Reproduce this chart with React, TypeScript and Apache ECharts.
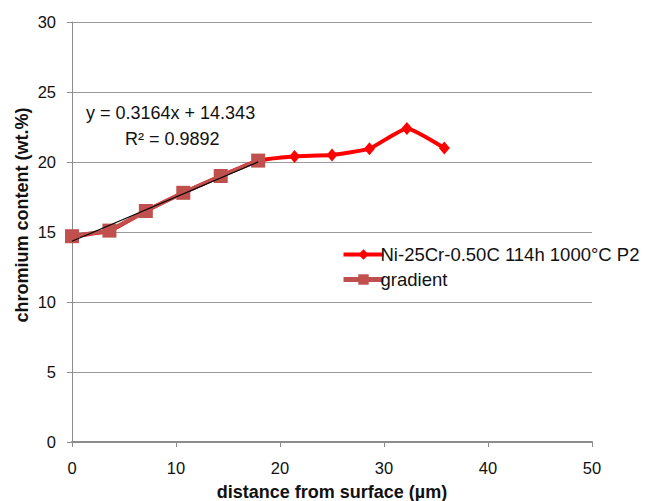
import React, { useEffect, useRef } from "react";
import * as echarts from "echarts";

const redX = [0, 3.6, 7.1, 10.7, 14.3, 17.9, 21.4, 25.0, 28.6, 32.2, 35.8];
const redY = [14.7, 15.1, 16.5, 17.8, 19.0, 20.1, 20.4, 20.5, 20.95, 22.4, 21.0];
const gradX = [0, 3.6, 7.1, 10.7, 14.3, 17.9];
const gradY = [14.7, 15.1, 16.5, 17.8, 19.0, 20.1];
const trendSlope = 0.3164;
const trendIntercept = 14.343;
const trendX = [0, 17.9];
const xTicks = [0, 10, 20, 30, 40, 50];
const yTicks = [0, 5, 10, 15, 20, 25, 30];
const seriesNames = ["Ni-25Cr-0.50C 114h 1000°C P2", "gradient"];

export default function App() {
  const ref = useRef<HTMLDivElement>(null);
  useEffect(() => {
    const chart = echarts.init(ref.current!, null, { renderer: "svg" });
    const font = "'Liberation Sans', Arial, sans-serif";
    chart.setOption({
      animation: false,
      backgroundColor: "#ffffff",
      textStyle: { fontFamily: font },
      grid: { left: 72, right: 54, top: 22, bottom: 59, containLabel: false, outerBoundsMode: "none" },
      xAxis: {
        type: "value",
        min: xTicks[0],
        max: xTicks[xTicks.length - 1],
        interval: 10,
        name: "distance from surface (µm)",
        nameLocation: "middle",
        nameGap: 41,
        nameTextStyle: { fontSize: 18, fontWeight: "bold", color: "#111", fontFamily: font },
        axisLine: { lineStyle: { color: "#8c8c8c", width: 2 } },
        axisTick: { show: true, length: 5, lineStyle: { color: "#8c8c8c", width: 1 } },
        axisLabel: { fontSize: 16.5, color: "#111", margin: 17, fontFamily: font },
        splitLine: { show: false },
      },
      yAxis: {
        type: "value",
        min: yTicks[0],
        max: yTicks[yTicks.length - 1],
        interval: 5,
        axisLine: { show: true, lineStyle: { color: "#8c8c8c", width: 1 } },
        axisTick: { show: true, length: 5, lineStyle: { color: "#8c8c8c", width: 1 } },
        axisLabel: { fontSize: 16.5, color: "#111", margin: 16, fontFamily: font },
        splitLine: { show: true, lineStyle: { color: "#9a9a9a", width: 1 } },
      },
      legend: {
        orient: "vertical",
        left: 336,
        top: 240,
        itemWidth: 40,
        itemHeight: 13,
        itemGap: 6,
        textStyle: { fontSize: 18.5, color: "#111", fontFamily: font, padding: [0, 0, 0, -8] },
        data: [
          { name: seriesNames[0], lineStyle: { width: 4, color: "#ff0000" } },
          { name: seriesNames[1], lineStyle: { width: 5, color: "#c0504d" } },
        ],
      },
      series: [
        {
          name: seriesNames[0],
          type: "line",
          data: redX.map((x, i) => [x, redY[i]]),
          smooth: 0.15,
          symbol: "diamond",
          symbolSize: [11, 13],
          itemStyle: { color: "#ff0000" },
          lineStyle: { color: "#ff0000", width: 4 },
          z: 2,
        },
        {
          name: seriesNames[1],
          type: "line",
          data: gradX.map((x, i) => [x, gradY[i]]),
          symbol: "rect",
          symbolSize: 14,
          itemStyle: { color: "#c0504d" },
          lineStyle: { color: "#c0504d", width: 4 },
          z: 3,
        },
        {
          name: "trend",
          type: "line",
          data: trendX.map((x) => [x, trendSlope * x + trendIntercept]),
          symbol: "none",
          lineStyle: { color: "#000000", width: 1.2 },
          z: 4,
        },
      ],
      graphic: [
        {
          type: "text",
          x: 86,
          y: 113,
          style: { text: "y = 0.3164x + 14.343", fill: "#111", font: `18px ${font}`, verticalAlign: "middle" },
        },
        {
          type: "text",
          x: 125,
          y: 139,
          style: { text: "R² = 0.9892", fill: "#111", font: `18px ${font}`, verticalAlign: "middle" },
        },
        {
          type: "text",
          x: 22,
          y: 215,
          rotation: Math.PI / 2,
          style: {
            text: "chromium content (wt.%)",
            fill: "#111",
            font: `bold 18px ${font}`,
            align: "center",
            verticalAlign: "middle",
          },
        },
      ],
    });
    return () => chart.dispose();
  }, []);
  return <div ref={ref} style={{ width: 646, height: 501, position: "absolute", left: 0, top: 0 }} />;
}
